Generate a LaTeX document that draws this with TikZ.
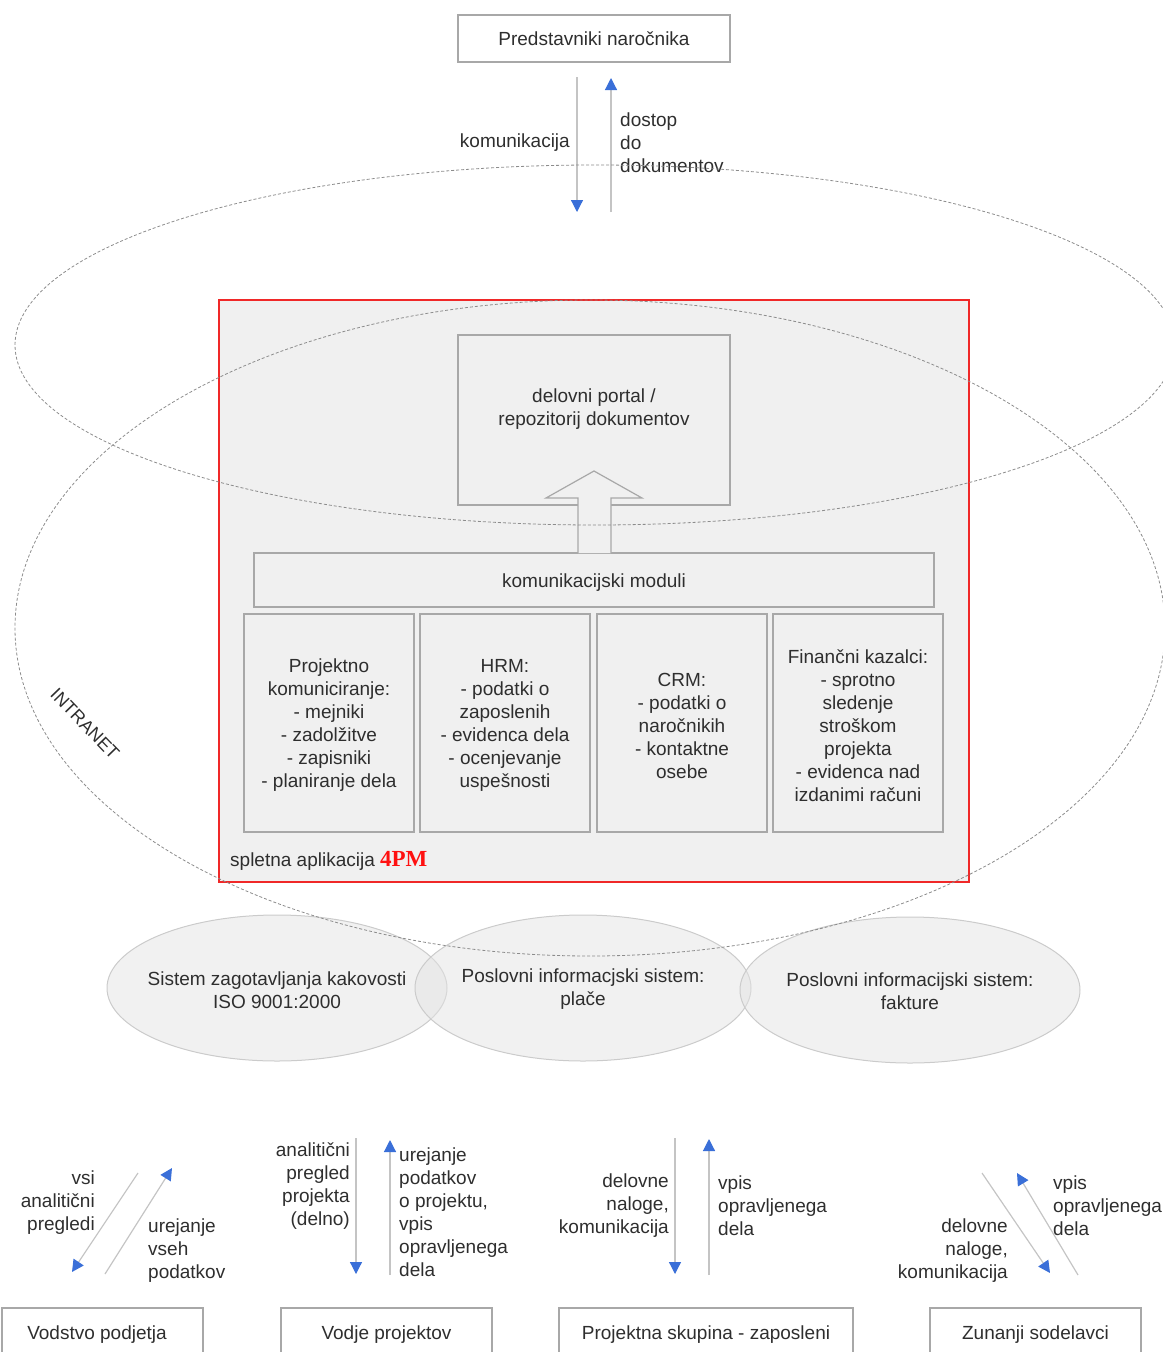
\documentclass[tikz,border=0pt]{standalone}
\usepackage{fontspec}
\setmainfont{Liberation Sans}
\newfontfamily\pmfont{Liberation Serif}
\usetikzlibrary{arrows.meta,shapes.geometric}
\definecolor{txt}{HTML}{2E2E2E}
\definecolor{bord}{HTML}{A8A8A8}
\definecolor{ln}{HTML}{C4C4C4}
\definecolor{tipblue}{HTML}{3A6FD8}
\definecolor{panel}{HTML}{F0F0F0}
\definecolor{redb}{HTML}{F02828}
\definecolor{pmred}{HTML}{FF1010}
\begin{document}
\begin{tikzpicture}[x=1pt,y=-1pt,
  every node/.style={text=txt, font=\fontsize{19}{23}\selectfont, inner sep=0pt},
  box/.style={draw=bord, line width=1.2pt, inner sep=0pt, align=center},
  flow/.style={draw=ln, line width=1.2pt, -{Triangle[length=12pt,width=12pt,color=tipblue,fill=tipblue]}},
  zone/.style={draw=black!45, line width=0.8pt, dash pattern=on 3pt off 2pt},
  sysell/.style={ellipse, draw=bord!60, line width=1pt, fill=gray!22, fill opacity=0.5, minimum width=340pt, minimum height=146pt},
  tx/.style={yshift=-2.5pt},
  lt/.style={tx, align=left, anchor=west},
  rt/.style={tx, align=right, anchor=east}]
\useasboundingbox (0,0) rectangle (1162,1352);

% top client box
\node[box, minimum width=272pt, minimum height=47pt] (client) at (594,38.5) {Predstavniki naročnika};
\coordinate (t1s) at (577,77); \coordinate (t1e) at (577,212);
\coordinate (t2s) at (611,212); \coordinate (t2e) at (611,78);
\draw[flow] (t1s) -- (t1e);
\draw[flow] (t2s) -- (t2e);
\node[rt] (komtop) at (570,140) {komunikacija};
\node[lt] (dostop) at (620,140) {dostop\\do\\dokumentov};

% web application panel
\node[draw=redb, line width=1.5pt, fill=panel, minimum width=750pt, minimum height=582pt] (app) at (594,591) {};
\node[box, fill=panel, minimum width=272pt, minimum height=170pt] (portal) at (594,420) {};
\node[tx, align=center] (portaltxt) at (594,407) {delovni portal /\\repozitorij dokumentov};
\node[box, fill=panel, minimum width=680pt, minimum height=54pt] (moduli) at (594,580) {};
\node[tx] (modulitxt) at (594,580) {komunikacijski moduli};
\draw[draw=bord, line width=1.2pt, fill=panel] (578,553) -- (578,498) -- (546,498) -- (594,471) -- (642,498) -- (611,498) -- (611,553);

\node[box, fill=panel, minimum width=170pt, minimum height=218pt] (m1) at (329,723) {};
\node[box, fill=panel, minimum width=170pt, minimum height=218pt] (m2) at (505,723) {};
\node[box, fill=panel, minimum width=170pt, minimum height=218pt] (m3) at (682,723) {};
\node[box, fill=panel, minimum width=170pt, minimum height=218pt] (m4) at (858,723) {};
\node[tx, align=center] (m1t) at (m1) {Projektno\\komuniciranje:\\- mejniki\\- zadolžitve\\- zapisniki\\- planiranje dela};
\node[tx, align=center] (m2t) at (m2) {HRM:\\- podatki o\\zaposlenih\\- evidenca dela\\- ocenjevanje\\uspešnosti};
\node[tx, align=center] (m3t) at (m3) {CRM:\\- podatki o\\naročnikih\\- kontaktne\\osebe};
\node[tx, align=center] (m4t) at (m4) {Finančni kazalci:\\- sprotno\\sledenje\\stroškom\\projekta\\- evidenca nad\\izdanimi računi};
\node[tx, anchor=west] (apptxt) at (230,858) {spletna aplikacija \textcolor{pmred}{\pmfont\bfseries\fontsize{23}{23}\selectfont 4PM}};

% systems
\node[sysell] (q1) at (277,988) {};
\node[sysell, minimum width=336pt] (q2) at (583,988) {};
\node[sysell] (q3) at (910,990) {};
\node[tx, align=center] (q1t) at (q1) {Sistem zagotavljanja kakovosti\\ISO 9001:2000};
\node[tx, align=center] (q2t) at (583,987) {Poslovni informacjski sistem:\\plače};
\node[tx, align=center] (q3t) at (910,989) {Poslovni informacijski sistem:\\fakture};

% dashed zones
\draw[zone] (595,345) ellipse [x radius=580pt, y radius=180pt];
\draw[zone] (590,628) ellipse [x radius=575pt, y radius=328pt];
\node[rotate=-46, font=\fontsize{18}{18}\selectfont] (intranet) at (85,724) {INTRANET};

% bottom group 1
\coordinate (a1s) at (138,1173); \coordinate (a1e) at (72,1272);
\coordinate (b1s) at (105,1274); \coordinate (b1e) at (172,1168);
\draw[flow] (a1s) -- (a1e);
\draw[flow] (b1s) -- (b1e);
\node[rt] (g1l) at (95,1200) {vsi\\analitični\\pregledi};
\node[lt] (g1r) at (148,1248) {urejanje\\vseh\\podatkov};

% bottom group 2
\coordinate (a2s) at (356,1138); \coordinate (a2e) at (356,1274);
\coordinate (b2s) at (390,1275); \coordinate (b2e) at (390,1140);
\draw[flow] (a2s) -- (a2e);
\draw[flow] (b2s) -- (b2e);
\node[rt] (g2l) at (350,1184) {analitični\\pregled\\projekta\\(delno)};
\node[lt] (g2r) at (399,1210) {urejanje\\podatkov\\o projektu,\\vpis\\opravljenega\\dela};

% bottom group 3
\coordinate (a3s) at (675,1138); \coordinate (a3e) at (675,1274);
\coordinate (b3s) at (709,1275); \coordinate (b3e) at (709,1139);
\draw[flow] (a3s) -- (a3e);
\draw[flow] (b3s) -- (b3e);
\node[rt] (g3l) at (669,1203) {delovne\\naloge,\\komunikacija};
\node[lt] (g3r) at (718,1203) {vpis\\opravljenega\\dela};

% bottom group 4
\coordinate (a4s) at (982,1173); \coordinate (a4e) at (1050,1273);
\coordinate (b4s) at (1078,1275); \coordinate (b4e) at (1017,1173);
\draw[flow] (a4s) -- (a4e);
\draw[flow] (b4s) -- (b4e);
\node[rt] (g4l) at (1008,1248) {delovne\\naloge,\\komunikacija};
\node[lt] (g4r) at (1053,1203) {vpis\\opravljenega\\dela};

% bottom boxes
\node[box, minimum width=201pt, minimum height=52pt] (vodstvo) at (102.5,1334) {};
\node[tx] (vodstvotxt) at (97,1332) {Vodstvo podjetja};
\node[box, minimum width=211pt, minimum height=52pt] (vodje) at (386.5,1334) {};
\node[tx] (vodjetxt) at (386.5,1332) {Vodje projektov};
\node[box, minimum width=294pt, minimum height=52pt] (skupina) at (706,1334) {};
\node[tx] (skupinatxt) at (706,1332) {Projektna skupina - zaposleni};
\node[box, minimum width=211pt, minimum height=52pt] (zunanji) at (1035.5,1334) {};
\node[tx] (zunanjitxt) at (1035.5,1332) {Zunanji sodelavci};
\end{tikzpicture}
\end{document}
